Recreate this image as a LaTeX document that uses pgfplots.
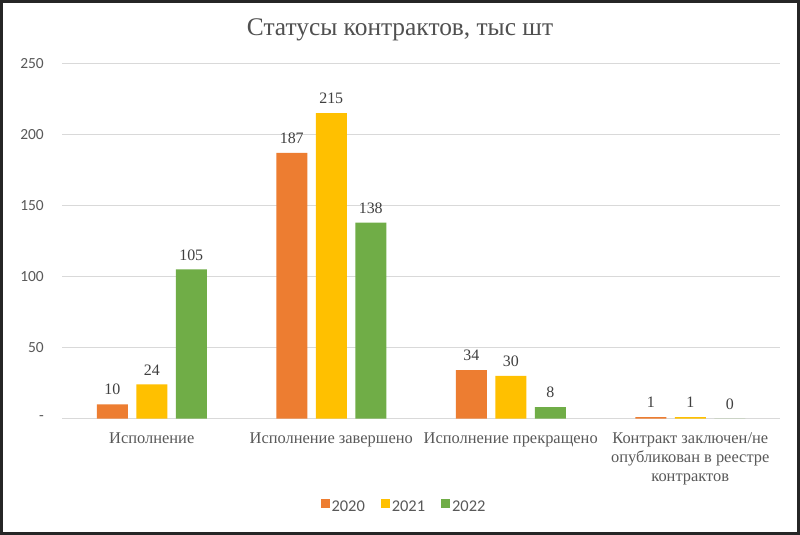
\documentclass[border=0pt]{standalone}
\usepackage{pgfplots}
\pgfplotsset{compat=1.18}
\usepackage{fontspec}
\setmainfont{Liberation Serif}
\newfontfamily\carlito{Carlito}
\definecolor{c20}{HTML}{ED7D31}
\definecolor{c21}{HTML}{FFC000}
\definecolor{c22}{HTML}{70AD47}
\definecolor{txt}{HTML}{595959}
\definecolor{lbl}{HTML}{404040}
\definecolor{gridc}{HTML}{D9D9D9}
\pgfplotsset{sqlegend/.style={legend image code/.code={\fill[##1,draw=none] (0bp,-1bp) rectangle (9bp,8bp);}}}
\begin{document}
\begin{tikzpicture}
\useasboundingbox (0,0) rectangle (800bp,535bp);
\fill[white] (0,0) rectangle (800bp,535bp);
\node[font=\fontsize{25.5}{30}\selectfont, text=txt!90!black] at (400bp,505bp) {Статусы контрактов, тыс шт};
\begin{axis}[
  at={(62bp,116.5bp)}, anchor=south west,
  scale only axis, width=718bp, height=355bp,
  /pgf/number format/assume math mode=true,
  ybar=8.5bp, bar width=31bp,
  xmin=-0.5, xmax=3.5, ymin=0, ymax=250,
  xtick={0,1,2,3},
  xticklabels={Исполнение, Исполнение завершено, Исполнение прекращено, {Контракт заключен/не\\опубликован в реестре\\контрактов}},
  xticklabel style={anchor=north, inner sep=0pt, yshift=-10bp, align=center, font=\fontsize{16.5}{19}\selectfont, text=txt},
  ytick={0,50,100,150,200,250},
  yticklabels={-\hspace{14bp},50,100,150,200,250},
  yticklabel style={anchor=east, inner sep=0pt, xshift=-18bp, font=\carlito\fontsize{15.5}{18}\selectfont, text=txt},
  axis lines*=left,
  y axis line style={draw=none},
  x axis line style={draw=gridc, line width=1bp, -},
  tick style={draw=none},
  ymajorgrids, grid style={draw=gridc, line width=1bp},
  nodes near coords,
  every node near coord/.append style={font=\fontsize{16}{19}\selectfont, text=lbl, inner sep=0pt, yshift=9bp},
  clip=false,
  sqlegend,
  legend style={at={(axis description cs:0.4763,-0.2480)}, anchor=center, draw=none, fill=none,
    font=\carlito\fontsize{16.5}{19}\selectfont, text=txt, legend columns=-1,
    /tikz/every even column/.append style={column sep=14bp}},
  legend cell align=left,
]
\addplot[fill=c20, draw=none] coordinates {(0,10) (1,187) (2,34) (3,1)};
\addplot[fill=c21, draw=none] coordinates {(0,24) (1,215) (2,30) (3,1)};
\addplot[fill=c22, draw=none] coordinates {(0,105) (1,138) (2,8) (3,0)};
\legend{2020,2021,2022}
\end{axis}
\draw[line width=3bp, black!85] (1.5bp,1.5bp) rectangle (798.5bp,533.5bp);
\end{tikzpicture}
\end{document}
